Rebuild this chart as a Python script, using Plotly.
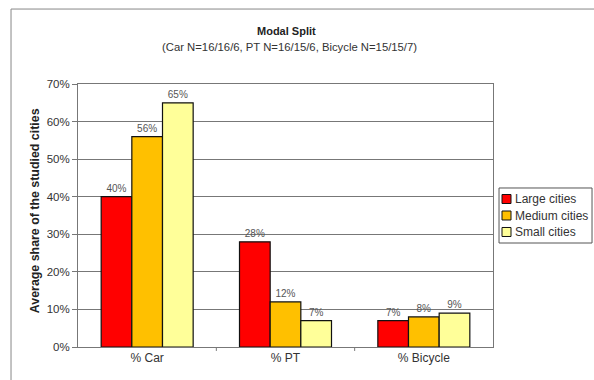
import plotly.graph_objects as go

# Modal split data: average share per transport mode and city size
categories = ["% Car", "% PT", "% Bicycle"]
large_cities = [0.40, 0.28, 0.07]
medium_cities = [0.56, 0.12, 0.08]
small_cities = [0.65, 0.07, 0.09]
series_names = ["Large cities", "Medium cities", "Small cities"]
y_ticks = [0, 0.1, 0.2, 0.3, 0.4, 0.5, 0.6, 0.7]

colors = ["#FF0000", "#FFC000", "#FFFF99"]
font_family = "Liberation Sans, Arial, sans-serif"

fig = go.Figure()
for name, vals, col in zip(series_names, [large_cities, medium_cities, small_cities], colors):
    fig.add_trace(go.Bar(
        name=name,
        x=categories,
        y=vals,
        marker=dict(color=col, line=dict(color="#111111", width=1.2)),
        text=[f"{round(v * 100)}%" for v in vals],
        textposition="outside",
        textfont=dict(size=10, color="#555555", family=font_family),
        cliponaxis=False,
        showlegend=False,
    ))

# Compact boxed legend to the right of the plot area
shapes = [
    # outer chart frame
    dict(type="rect", xref="paper", yref="paper",
         x0=-0.1614, x1=1.6, y0=-0.3, y1=1.285,
         line=dict(color="#888888", width=1), fillcolor="rgba(0,0,0,0)", layer="below"),
    # category separator ticks on the category axis
    dict(type="line", xref="x", yref="paper", x0=0.5, x1=0.5, y0=0, y1=-0.015,
         line=dict(color="#777777", width=1)),
    dict(type="line", xref="x", yref="paper", x0=1.5, x1=1.5, y0=0, y1=-0.015,
         line=dict(color="#777777", width=1)),
    # legend box
    dict(type="rect", xref="paper", yref="paper",
         x0=1.0145, x1=1.2386, y0=0.3954, y1=0.6046,
         line=dict(color="#555555", width=1), fillcolor="white"),
]
annotations = [
    dict(text="<b>Modal Split</b>", x=0.503, y=1.202, xref="paper", yref="paper",
         showarrow=False, font=dict(size=11, color="#222222"),
         xanchor="center", yanchor="middle"),
    dict(text="(Car N=16/16/6, PT N=16/15/6, Bicycle N=15/15/7)", x=0.51, y=1.14,
         xref="paper", yref="paper", showarrow=False,
         font=dict(size=11.3, color="#333333"), xanchor="center", yanchor="middle"),
    dict(text="<b>Average share of the studied cities</b>", x=-0.1037, y=0.52,
         xref="paper", yref="paper", showarrow=False, textangle=-90,
         font=dict(size=12.4, color="#222222"), xanchor="center", yanchor="middle"),
]
legend_rows_y = [0.5627, 0.5, 0.4373]
half = 0.0171
for name, col, yc in zip(series_names, colors, legend_rows_y):
    shapes.append(dict(type="rect", xref="paper", yref="paper",
                       x0=1.0217, x1=1.0434, y0=yc - half, y1=yc + half,
                       line=dict(color="#111111", width=1), fillcolor=col))
    annotations.append(dict(text=name, x=1.0482, y=yc, xref="paper", yref="paper",
                            showarrow=False, xanchor="left", yanchor="middle",
                            font=dict(size=12, color="#333333")))

fig.update_layout(
    width=594,
    height=380,
    margin=dict(l=78, r=101, t=84, b=33),
    paper_bgcolor="white",
    plot_bgcolor="white",
    barmode="group",
    bargap=0.335,
    bargroupgap=0,
    font=dict(family=font_family, size=11, color="#222222"),
    showlegend=False,
    xaxis=dict(
        showline=True, linecolor="#777777", linewidth=1, mirror=True,
        ticks="", showgrid=False,
        tickfont=dict(size=12, color="#333333"),
    ),
    yaxis=dict(
        range=[0, 0.7],
        tickvals=y_ticks,
        tickformat=".0%",
        showline=True, linecolor="#777777", linewidth=1, mirror=True,
        ticks="outside", ticklen=5, tickcolor="#777777",
        showgrid=True, gridcolor="#777777", gridwidth=1,
        zeroline=False,
        tickfont=dict(size=11.5, color="#333333"),
    ),
    annotations=annotations,
    shapes=shapes,
)

fig.write_html("out.html")
